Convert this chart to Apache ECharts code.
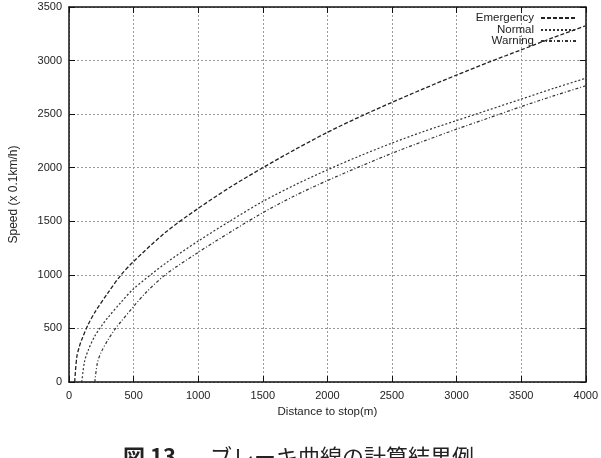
<!DOCTYPE html>
<html lang="ja">
<head>
    <meta charset="UTF-8" />
    <title>ブレーキ曲線</title>
    <script src="https://cdn.jsdelivr.net/npm/echarts@6/dist/echarts.min.js"></script>
    <style>
        html, body { margin: 0; padding: 0; background: #fff; }
        #main { width: 601px; height: 458px; }
    </style>
</head>
<body>
    <div id="main"></div>
    <script type="text/javascript">
        // values (distance in m, speed in 0.1 km/h)
        const emergencyDist = [44, 60, 80, 100, 150, 200, 300, 400, 500, 750, 1000, 1250, 1500, 1750, 2000, 2250, 2500, 2750, 3000, 3250, 3500, 3750, 4000];
        const emergencySpeed = [0, 230, 330, 400, 540, 650, 830, 995, 1125, 1400, 1620, 1820, 2000, 2170, 2330, 2475, 2610, 2740, 2865, 2985, 3100, 3215, 3325];

        const normalDist = [99, 120, 150, 200, 250, 300, 400, 500, 750, 1000, 1250, 1500, 1750, 2000, 2250, 2500, 2750, 3000, 3250, 3500, 3750, 4000];
        const normalSpeed = [0, 190, 300, 430, 520, 600, 740, 870, 1110, 1315, 1505, 1685, 1840, 1980, 2110, 2230, 2340, 2440, 2540, 2640, 2740, 2835];

        const warningDist = [200, 220, 250, 300, 360, 400, 500, 600, 750, 1000, 1250, 1500, 1750, 2000, 2250, 2500, 2750, 3000, 3250, 3500, 3750, 4000];
        const warningSpeed = [0, 180, 280, 390, 500, 560, 705, 840, 1005, 1210, 1400, 1580, 1740, 1880, 2010, 2135, 2250, 2360, 2465, 2570, 2670, 2765];

        const seriesNames = ["Emergency", "Normal", "Warning"];
        const xTicks = [0, 500, 1000, 1500, 2000, 2500, 3000, 3500, 4000];
        const yTicks = [0, 500, 1000, 1500, 2000, 2500, 3000, 3500];

        function pairs(xs, ys) {
            return xs.map((x, i) => [x, ys[i]]);
        }

        const font = "Liberation Sans, Arial, sans-serif";
        const gridLine = { show: true, lineStyle: { color: "#9a9a9a", type: [2, 2], width: 1 } };
        const frame = { show: true, onZero: false, lineStyle: { color: "#111", width: 1.5 } };
        const tick = { show: true, inside: true, length: 6, lineStyle: { color: "#111", width: 1 } };
        const plain = (v) => String(v);

        const xBase = { type: "value", min: xTicks[0], max: xTicks[xTicks.length - 1], interval: 500 };
        const yBase = { type: "value", min: yTicks[0], max: yTicks[yTicks.length - 1], interval: 500 };

        const styles = [
            { color: "#222", type: [4, 2], width: 1.3 },
            { color: "#333", type: [2, 2], width: 1.2 },
            { color: "#333", type: [3, 2, 1, 2], width: 1.2 }
        ];
        const data = [
            pairs(emergencyDist, emergencySpeed),
            pairs(normalDist, normalSpeed),
            pairs(warningDist, warningSpeed)
        ];
        const legendTops = [12, 24, 35];

        let options = {
            animation: false,
            backgroundColor: "#fff",
            textStyle: { fontFamily: font },
            grid: { left: 67, right: 11, top: 7, bottom: 76 },
            legend: seriesNames.map((name, i) => ({
                data: [name],
                right: 23,
                top: legendTops[i],
                align: "right",
                itemWidth: 36,
                itemHeight: 8,
                itemGap: 0,
                padding: 0,
                itemStyle: { opacity: 0 },
                textStyle: { fontSize: 11.5, color: "#222", fontFamily: font, padding: [0, 2, 0, 0] }
            })),
            xAxis: [
                Object.assign({}, xBase, {
                    position: "bottom",
                    name: "Distance to stop(m)",
                    nameLocation: "middle",
                    nameGap: 24,
                    nameTextStyle: { fontSize: 11.5, color: "#222" },
                    axisLine: frame,
                    axisTick: tick,
                    axisLabel: { fontSize: 11, color: "#222", margin: 8, formatter: plain },
                    splitLine: gridLine
                }),
                Object.assign({}, xBase, {
                    position: "top",
                    axisLine: frame,
                    axisTick: tick,
                    axisLabel: { show: false },
                    splitLine: { show: false }
                })
            ],
            yAxis: [
                Object.assign({}, yBase, {
                    position: "left",
                    name: "Speed (x 0.1km/h)",
                    nameLocation: "middle",
                    nameGap: 49,
                    nameTextStyle: { fontSize: 12, color: "#222" },
                    axisLine: frame,
                    axisTick: tick,
                    axisLabel: { fontSize: 11, color: "#222", margin: 7, formatter: plain },
                    splitLine: gridLine
                }),
                Object.assign({}, yBase, {
                    position: "right",
                    axisLine: frame,
                    axisTick: tick,
                    axisLabel: { show: false },
                    splitLine: { show: false }
                })
            ],
            series: seriesNames.map((name, i) => ({
                name: name,
                type: "line",
                xAxisIndex: 0,
                yAxisIndex: 0,
                smooth: 0.3,
                symbol: "none",
                data: data[i],
                itemStyle: { color: styles[i].color },
                lineStyle: styles[i]
            })),
            graphic: [
                {
                    type: "text",
                    left: 123,
                    top: 446,
                    style: { text: "図 13", font: "bold 22px 'Noto Sans CJK JP', serif", fill: "#222" }
                },
                {
                    type: "text",
                    left: 210,
                    top: 446,
                    style: { text: "ブレーキ曲線の計算結果例", font: "22px 'Noto Sans CJK JP', serif", fill: "#222" }
                }
            ]
        };

        let myChart = echarts.init(document.getElementById("main"));
        myChart.setOption(options);
    </script>
</body>
</html>
